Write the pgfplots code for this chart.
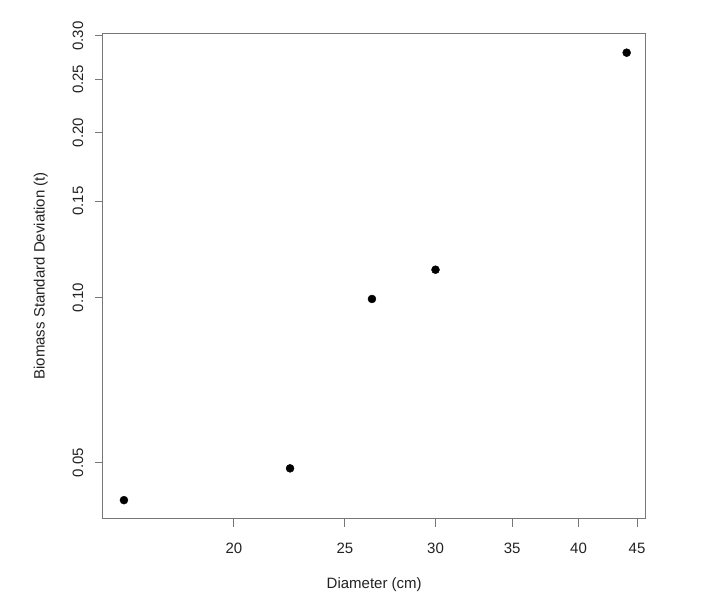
\documentclass[border=0pt]{standalone}
\usepackage{fontspec}
\setmainfont{Liberation Sans}
\usepackage{pgfplots}
\pgfplotsset{compat=1.18}

\definecolor{boxgray}{HTML}{777777}
\definecolor{txt}{HTML}{222222}

\begin{document}
\begin{tikzpicture}
\begin{axis}[
    scale only axis,
    width=543pt, height=485.7pt,
    xmode=log, ymode=log,
    xmin=15.36, xmax=45.79,
    ymin=0.0395, ymax=0.3038,
    xtick={20,25,30,35,40,45},
    xticklabels={20,25,30,35,40,45},
    ytick={0.05,0.10,0.15,0.20,0.25,0.30},
    yticklabels={0.05,0.10,0.15,0.20,0.25,0.30},
    minor tick num=0,
    log ticks with fixed point,
    xtick pos=bottom, ytick pos=left,
    tick align=outside,
    major tick length=8pt,
    axis line style={boxgray, line width=1pt},
    every tick/.style={boxgray, line width=1pt},
    /pgf/number format/assume math mode=true,
    tick label style={font=\fontsize{15}{17}\selectfont, text=txt},
    yticklabel style={rotate=90, anchor=south, yshift=8pt},
    xticklabel style={yshift=-13pt},
    label style={font=\fontsize{15}{17}\selectfont, text=txt},
    xlabel={Diameter (cm)},
    ylabel={Biomass Standard Deviation (t)},
    xlabel style={at={(0.5,0)}, anchor=center, yshift=-66pt},
    ylabel style={at={(0,0.5)}, anchor=center, yshift=62pt},
]
\addplot[only marks, mark=*, mark size=4pt, color=black] coordinates {
    (16.03, 0.0427)
    (22.39, 0.0488)
    (26.40, 0.0994)
    (30.00, 0.1124)
    (44.07, 0.2797)
};
\end{axis}
\path[use as bounding box] (-102.7pt,-86.3pt) rectangle (614.3pt,518.7pt);
\end{tikzpicture}
\end{document}
